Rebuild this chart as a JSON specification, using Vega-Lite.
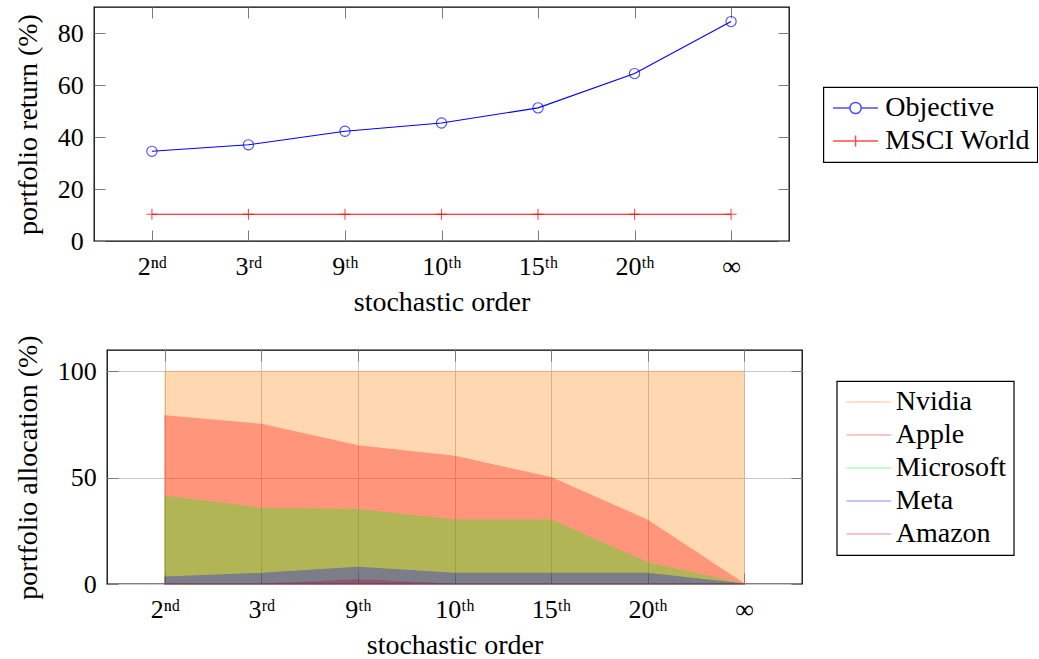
{
  "$schema": "https://vega.github.io/schema/vega-lite/v6.json",
  "background": "white",
  "padding": {"left": 12, "top": 5, "right": 0, "bottom": 0},
  "spacing": 16,
  "config": {
    "font": "Liberation Serif, DejaVu Serif",
    "view": {"stroke": "black", "strokeWidth": 1.3},
    "axis": {
      "grid": true,
      "gridColor": "#c8c8c8",
      "gridWidth": 1,
      "domain": false,
      "tickColor": "#7a7a7a",
      "tickSize": -11,
      "tickWidth": 1,
      "labelFont": "Liberation Serif, DejaVu Serif",
      "labelFontSize": 26,
      "labelColor": "black",
      "titleFont": "Liberation Serif, DejaVu Serif",
      "titleFontSize": 28,
      "titleFontWeight": "normal",
      "titleColor": "black"
    },
    "axisX": {"labelAngle": 0, "labelPadding": 23.5, "titlePadding": 9},
    "axisY": {"labelPadding": 21.7, "titlePadding": 15},
    "legend": {
      "strokeColor": "black",
      "strokeWidth": 1.2,
      "fillColor": "white",
      "padding": 7,
      "cornerRadius": 0,
      "labelFont": "Liberation Serif, DejaVu Serif",
      "labelFontSize": 28,
      "labelColor": "black",
      "rowPadding": 5,
      "title": null
    }
  },
  "vconcat": [
    {
      "spacing": 0,
      "hconcat": [
        {"width": 1, "height": 1, "view": {"stroke": null}, "data": {"values": []}, "mark": "point"},
        {
          "width": 695,
          "height": 234,
          "data": {
            "values": [
              {"order": "2ⁿᵈ", "series": "Objective", "value": 34.5},
              {"order": "3ʳᵈ", "series": "Objective", "value": 37.0},
              {"order": "9ᵗʰ", "series": "Objective", "value": 42.2},
              {"order": "10ᵗʰ", "series": "Objective", "value": 45.4},
              {"order": "15ᵗʰ", "series": "Objective", "value": 51.2},
              {"order": "20ᵗʰ", "series": "Objective", "value": 64.4},
              {"order": "∞", "series": "Objective", "value": 84.4},
              {"order": "2ⁿᵈ", "series": "MSCI World", "value": 10.3},
              {"order": "3ʳᵈ", "series": "MSCI World", "value": 10.3},
              {"order": "9ᵗʰ", "series": "MSCI World", "value": 10.3},
              {"order": "10ᵗʰ", "series": "MSCI World", "value": 10.3},
              {"order": "15ᵗʰ", "series": "MSCI World", "value": 10.3},
              {"order": "20ᵗʰ", "series": "MSCI World", "value": 10.3},
              {"order": "∞", "series": "MSCI World", "value": 10.3}
            ]
          },
          "resolve": {"axis": {"x": "independent", "y": "independent"}},
          "layer": [
            {
              "mark": {"type": "point", "filled": false, "size": 0, "strokeWidth": 1.1},
              "encoding": {
                "x": {
                  "field": "order", "type": "nominal",
                  "scale": {"type": "point", "padding": 0.6, "domain": ["2ⁿᵈ", "3ʳᵈ", "9ᵗʰ", "10ᵗʰ", "15ᵗʰ", "20ᵗʰ", "∞"]},
                  "axis": {"orient": "top", "labels": false, "title": null, "grid": false}
                },
                "y": {
                  "field": "value", "type": "quantitative",
                  "scale": {"domain": [0, 90], "nice": false},
                  "axis": {"orient": "right", "values": [0, 20, 40, 60, 80], "labels": false, "title": null, "grid": false}
                },
                "color": {
                  "field": "series", "type": "nominal",
                  "scale": {"domain": ["Objective", "MSCI World"], "range": ["#0000ff", "#ff0000"]},
                  "legend": {"orient": "none", "legendX": 811.3, "legendY": 80, "symbolSize": 506, "labelOffset": 27}
                },
                "shape": {
                  "field": "series", "type": "nominal",
                  "scale": {"domain": ["Objective", "MSCI World"], "range": ["M-1,0H0.5M1.5,0H3M1.5,0A0.5,0.5 0 1,1 0.5,0A0.5,0.5 0 1,1 1.5,0", "M-1,0H3M1,-0.5V0.5"]},
                  "legend": {"orient": "none", "legendX": 811.3, "legendY": 80, "symbolSize": 506, "labelOffset": 27}
                }
              }
            },
            {
              "encoding": {
                "x": {
                  "field": "order", "type": "nominal",
                  "scale": {"type": "point", "padding": 0.6, "domain": ["2ⁿᵈ", "3ʳᵈ", "9ᵗʰ", "10ᵗʰ", "15ᵗʰ", "20ᵗʰ", "∞"]},
                  "axis": {"title": "stochastic order"}
                },
                "y": {
                  "field": "value", "type": "quantitative",
                  "scale": {"domain": [0, 90], "nice": false},
                  "axis": {"values": [0, 20, 40, 60, 80], "title": "portfolio return (%)"}
                }
              },
              "layer": [
                {
                  "mark": {"type": "line", "strokeWidth": 1.1},
                  "encoding": {"color": {"field": "series", "type": "nominal", "legend": null}}
                },
                {
                  "transform": [{"filter": "datum.series === 'Objective'"}],
                  "mark": {"type": "point", "filled": false, "shape": "circle", "size": 105, "strokeWidth": 1.1},
                  "encoding": {"color": {"field": "series", "type": "nominal", "legend": null}}
                },
                {
                  "transform": [{"filter": "datum.series === 'MSCI World'"}],
                  "mark": {"type": "point", "filled": false, "shape": "M-1,0H1M0,-1V1", "size": 121, "strokeWidth": 1.1},
                  "encoding": {"color": {"field": "series", "type": "nominal", "legend": null}}
                }
              ]
            }
          ]
        }
      ]
    },
    {
      "spacing": 0,
      "hconcat": [
        {"width": 1, "height": 1, "view": {"stroke": null}, "data": {"values": []}, "mark": "point"},
        {
          "width": 695,
          "height": 234,
          "data": {
            "values": [
              {"order": "2ⁿᵈ", "company": "Nvidia", "value": 100},
              {"order": "3ʳᵈ", "company": "Nvidia", "value": 100},
              {"order": "9ᵗʰ", "company": "Nvidia", "value": 100},
              {"order": "10ᵗʰ", "company": "Nvidia", "value": 100},
              {"order": "15ᵗʰ", "company": "Nvidia", "value": 100},
              {"order": "20ᵗʰ", "company": "Nvidia", "value": 100},
              {"order": "∞", "company": "Nvidia", "value": 100},
              {"order": "2ⁿᵈ", "company": "Apple", "value": 79},
              {"order": "3ʳᵈ", "company": "Apple", "value": 75},
              {"order": "9ᵗʰ", "company": "Apple", "value": 65},
              {"order": "10ᵗʰ", "company": "Apple", "value": 60},
              {"order": "15ᵗʰ", "company": "Apple", "value": 50},
              {"order": "20ᵗʰ", "company": "Apple", "value": 30},
              {"order": "∞", "company": "Apple", "value": 0},
              {"order": "2ⁿᵈ", "company": "Microsoft", "value": 41.2},
              {"order": "3ʳᵈ", "company": "Microsoft", "value": 35.6},
              {"order": "9ᵗʰ", "company": "Microsoft", "value": 35},
              {"order": "10ᵗʰ", "company": "Microsoft", "value": 30},
              {"order": "15ᵗʰ", "company": "Microsoft", "value": 30},
              {"order": "20ᵗʰ", "company": "Microsoft", "value": 10},
              {"order": "∞", "company": "Microsoft", "value": 0},
              {"order": "2ⁿᵈ", "company": "Meta", "value": 3.3},
              {"order": "3ʳᵈ", "company": "Meta", "value": 5},
              {"order": "9ᵗʰ", "company": "Meta", "value": 7.8},
              {"order": "10ᵗʰ", "company": "Meta", "value": 5},
              {"order": "15ᵗʰ", "company": "Meta", "value": 5},
              {"order": "20ᵗʰ", "company": "Meta", "value": 5},
              {"order": "∞", "company": "Meta", "value": 0},
              {"order": "2ⁿᵈ", "company": "Amazon", "value": 0},
              {"order": "3ʳᵈ", "company": "Amazon", "value": 0},
              {"order": "9ᵗʰ", "company": "Amazon", "value": 2.0},
              {"order": "10ᵗʰ", "company": "Amazon", "value": 0},
              {"order": "15ᵗʰ", "company": "Amazon", "value": 0},
              {"order": "20ᵗʰ", "company": "Amazon", "value": 0},
              {"order": "∞", "company": "Amazon", "value": 0}
            ]
          },
          "resolve": {"axis": {"x": "independent", "y": "independent"}},
          "layer": [
            {
              "mark": {"type": "area", "opacity": 0.3, "strokeWidth": 1.2},
              "encoding": {
                "x": {
                  "field": "order", "type": "nominal",
                  "scale": {"type": "point", "padding": 0.6, "domain": ["2ⁿᵈ", "3ʳᵈ", "9ᵗʰ", "10ᵗʰ", "15ᵗʰ", "20ᵗʰ", "∞"]},
                  "axis": {"title": "stochastic order"}
                },
                "y": {
                  "field": "value", "type": "quantitative", "stack": null,
                  "scale": {"domain": [0, 110], "nice": false},
                  "axis": {"values": [0, 50, 100], "title": "portfolio allocation (%)"}
                },
                "fill": {
                  "field": "company", "type": "nominal",
                  "scale": {"domain": ["Nvidia", "Apple", "Microsoft", "Meta", "Amazon"], "range": ["#ff8000", "#ff0000", "#00ff00", "#0000ff", "#bf0040"]},
                  "legend": {"orient": "none", "legendX": 824.7, "legendY": 374, "symbolSize": 500, "symbolType": "M-1,0H3", "labelOffset": 24}
                },
                "stroke": {
                  "field": "company", "type": "nominal",
                  "scale": {"domain": ["Nvidia", "Apple", "Microsoft", "Meta", "Amazon"], "range": ["#ff8000", "#ff0000", "#00ff00", "#0000ff", "#bf0040"]},
                  "legend": {"orient": "none", "legendX": 824.7, "legendY": 374, "symbolSize": 500, "symbolType": "M-1,0H3", "labelOffset": 24}
                }
              }
            },
            {
              "mark": {"type": "point", "size": 0, "filled": false},
              "encoding": {
                "x": {
                  "field": "order", "type": "nominal",
                  "scale": {"type": "point", "padding": 0.6, "domain": ["2ⁿᵈ", "3ʳᵈ", "9ᵗʰ", "10ᵗʰ", "15ᵗʰ", "20ᵗʰ", "∞"]},
                  "axis": {"orient": "top", "labels": false, "title": null, "grid": false}
                },
                "y": {
                  "field": "value", "type": "quantitative",
                  "scale": {"domain": [0, 110], "nice": false},
                  "axis": {"orient": "right", "values": [0, 50, 100], "labels": false, "title": null, "grid": false}
                }
              }
            }
          ]
        }
      ]
    }
  ]
}
